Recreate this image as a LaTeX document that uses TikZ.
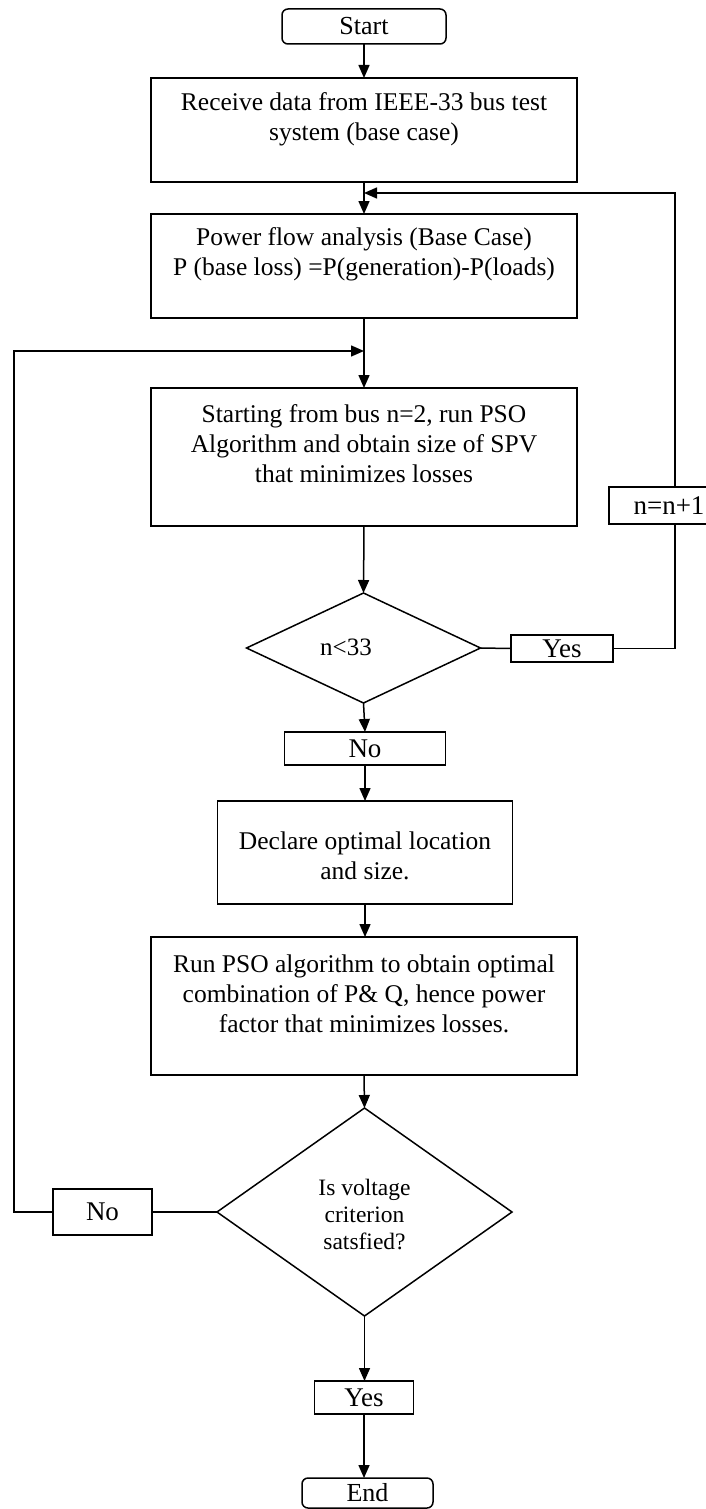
\documentclass[tikz,border=0pt]{standalone}
\usepackage{fontspec}
\setmainfont{Liberation Serif}
\usetikzlibrary{shapes.geometric,arrows.meta}
\begin{document}
\begin{tikzpicture}[x=1pt,y=-1pt,
  every node/.style={inner sep=0pt, outer sep=0pt},
  line width=1.5pt,
  box/.style={draw, rectangle, line width=1.5pt},
  term/.style={draw, rectangle, rounded corners=6pt, line width=1.5pt, font=\fontsize{26}{30}\selectfont},
  dia/.style={draw, diamond, line width=1.5pt},
  txt/.style={align=center, font=\fontsize{25.5}{30}\selectfont},
  dtxt/.style={align=center, font=\fontsize{23.5}{27}\selectfont},
  lbl/.style={draw, rectangle, line width=1.5pt, font=\fontsize{27}{30}\selectfont},
  arr/.style={-{Triangle[length=13pt,width=11pt]}}
]
\useasboundingbox (0,0) rectangle (706,1509);
\fill[white] (0,0) rectangle (706,1509);

% main column
\node[term, minimum width=164pt, minimum height=35pt] (start) at (364,26.5) {Start};
\node[box, minimum width=426pt, minimum height=104pt] (b1) at (364,130) {};
\node[txt] (t1) at (364,119) {Receive data from IEEE-33 bus test\\system (base case)};
\node[box, minimum width=426pt, minimum height=104pt] (b2) at (364,266) {};
\node[txt] (t2) at (364,254) {Power flow analysis (Base Case)\\P (base loss) =P(generation)-P(loads)};
\node[box, minimum width=426pt, minimum height=138pt] (b3) at (364,457) {};
\node[txt] (t3) at (364,443.5) {Starting from bus n=2, run PSO\\Algorithm and obtain size of SPV\\that minimizes losses};
\node[dia, minimum width=234pt, minimum height=110pt] (d1) at (363.5,648) {};
\node[font=\fontsize{25}{28}\selectfont, anchor=base] (d1t) at (346,655) {n<33};
\node[lbl, minimum width=102pt, minimum height=27pt] (yes1) at (562,648.5) {Yes};
\node[lbl, minimum width=120pt, minimum height=37pt] (nn) at (669,505.5) {n=n+1};
\node[lbl, minimum width=161pt, minimum height=33pt] (no1) at (365,748.5) {No};
\node[box, minimum width=295pt, minimum height=103pt] (b4) at (365,852.5) {};
\node[txt] (t4) at (365,856) {Declare optimal location\\and size.};
\node[box, minimum width=426pt, minimum height=138pt] (b5) at (364,1006) {};
\node[txt] (t5) at (364,994) {Run PSO algorithm to obtain optimal\\combination of P\& Q, hence power\\factor that minimizes losses.};
\node[dia, minimum width=295pt, minimum height=208pt] (d2) at (364.5,1212) {};
\node[dtxt] (d2t) at (364.5,1214) {Is voltage\\criterion\\satsfied?};
\node[lbl, minimum width=99pt, minimum height=46pt] (no2) at (102.5,1212) {No};
\node[lbl, minimum width=99pt, minimum height=33pt] (yes2) at (364,1397.5) {Yes};
\node[term, minimum width=131pt, minimum height=30pt] (end) at (367.5,1493) {End};

% merge points
\coordinate (m1) at (364,193);
\coordinate (m2) at (364,351);
\coordinate (rx) at (675,0);
\coordinate (lx) at (14,0);

% connectors
\draw[arr] (start.south -| b1.north) -- (b1.north);
\draw[arr] (b1.south) -- (b2.north);
\draw[arr] (b2.south) -- (b3.north);
\draw[arr] (b3.south) -- (d1.north);
\draw[arr] (d1.south) -- (no1.north);
\draw[arr] (no1.south) -- (no1.south |- b4.north);
\draw[arr] (b4.south) -- (b4.south |- b5.north);
\draw[arr] (b5.south) -- (d2.north);
\draw[arr] (d2.south) -- (d2.south |- yes2.north);
\draw[arr] (yes2.south) -- (yes2.south |- end.north);

% yes loop
\draw (d1.east) -- (yes1.west);
\draw (yes1.east) -| (nn.south -| rx);
\draw[arr] (nn.north -| rx) |- (m1);

% no loop
\draw (d2.west) -- (no2.east);
\draw[arr] (no2.west) -- (no2.west -| lx) |- (m2);
\end{tikzpicture}
\end{document}
